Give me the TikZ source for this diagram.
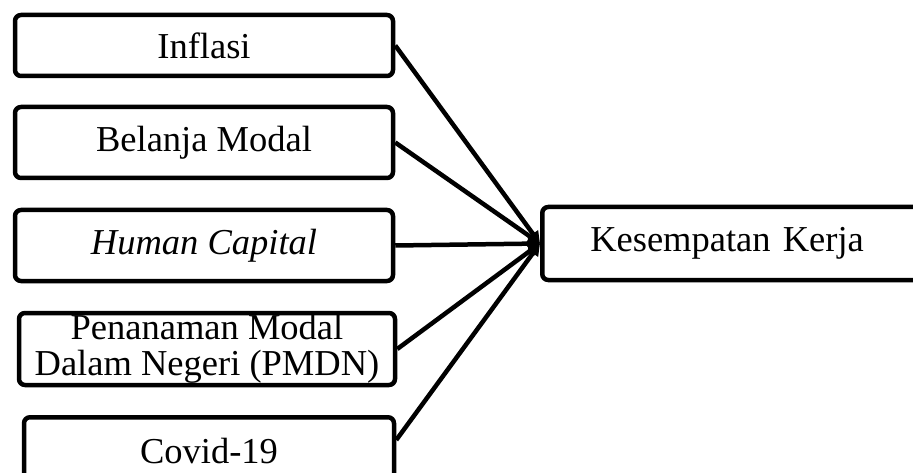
\documentclass[tikz,border=0pt]{standalone}
\usepackage{fontspec}
\setmainfont{Liberation Serif}
\usetikzlibrary{arrows.meta}
\begin{document}
\begin{tikzpicture}[x=1pt,y=-1pt,
  box/.style={draw, line width=4.5pt, rounded corners=6pt, inner sep=0pt, font=\fontsize{36.5}{40}\selectfont, align=center},
  link/.style={line width=4.5pt, -{Triangle[length=12pt,width=12pt]}}]
\useasboundingbox (0,0) rectangle (913,473);
\node[box, minimum width=378pt, minimum height=61pt] (inf) at (204,45.5) {Inflasi};
\node[box, minimum width=378pt, minimum height=71pt] (bel) at (204,142.5) {Belanja Modal};
\node[box, minimum width=378pt, minimum height=71pt] (hum) at (204,245.5) {\itshape Human Capital};
\node[box, minimum width=376pt, minimum height=72pt] (pmdn) at (207,349) {Penanaman Modal\\[-4pt]Dalam Negeri (PMDN)};
\node[box, minimum width=370pt, minimum height=90pt, anchor=north] (cov) at (209,415) {\raisebox{22pt}{Covid-19}};
\node[box, anchor=west, minimum height=73pt, inner xsep=48pt, text width=352pt, align=left] (kes) at (540,243.5) {Kesempatan Kerja};
\coordinate (covp) at ([yshift=-25pt]cov.north east);
\draw[link] (inf.east) -- (kes.west);
\draw[link] (bel.east) -- (kes.west);
\draw[link] (hum.east) -- (kes.west);
\draw[link] (pmdn.east) -- (kes.west);
\draw[link] (covp) -- (kes.west);
\end{tikzpicture}
\end{document}
